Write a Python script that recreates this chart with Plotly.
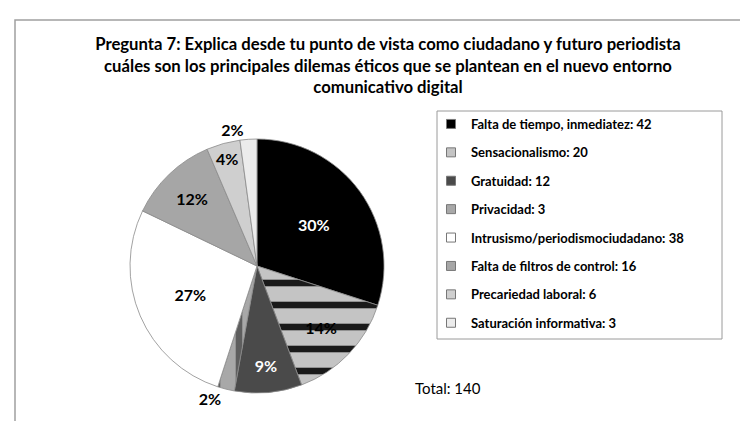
import plotly.graph_objects as go

labels = ["Falta de tiempo, inmediatez", "Sensacionalismo", "Gratuidad", "Privacidad",
          "Intrusismo/periodismociudadano", "Falta de filtros de control",
          "Precariedad laboral", "Saturación informativa"]
values = [42, 20, 12, 3, 38, 16, 6, 3]
pct_labels = ["30%", "14%", "9%", "2%", "27%", "12%", "4%", "2%"]
colors = ["#000000", "#c4c4c4", "#4a4a4a", "#a8a8a8", "#ffffff", "#a6a6a6", "#cfcfcf", "#ececec"]
text_colors = ["white", "black", "white", "black", "black", "black", "black", "black"]
positions = ["inside", "inside", "inside", "outside", "inside", "inside", "inside", "outside"]
patterns = ["", "-", "", "|", "", "", "", ""]
pattern_fg = ["#000000", "#1a1a1a", "#000000", "#5e5e5e", "#000000", "#000000", "#000000", "#000000"]
title = ("Pregunta 7: Explica desde tu punto de vista como ciudadano y futuro periodista<br>"
         "cuáles son los principales dilemas éticos que se plantean en el nuevo entorno<br>"
         "comunicativo digital")
total = sum(values)

FONT = "Lato"
W, H = 748, 421
CX, CY, R = 249, 258, 127


def px(x):
    return x / W


def py(y):
    return 1 - y / H


fig = go.Figure()
fig.add_trace(go.Pie(
    labels=labels, values=values, text=pct_labels, textinfo="text",
    sort=False, direction="clockwise", rotation=0,
    marker=dict(colors=colors, line=dict(color="#8a8a8a", width=0.8),
                pattern=dict(shape=patterns, fgcolor=pattern_fg, bgcolor=colors,
                             size=22, solidity=0.3)),
    textposition=positions, insidetextorientation="horizontal",
    textfont=dict(family=FONT, size=16, color=text_colors, weight="bold"),
    outsidetextfont=dict(family=FONT, size=16, color="black", weight="bold"),
    domain=dict(x=[px(CX - R), px(CX + R)], y=[py(CY + R), py(CY - R)]),
    showlegend=False, hoverinfo="label+value+percent",
))

for i, (lab, val) in enumerate(zip(labels, values)):
    fig.add_trace(go.Scatter(
        x=[None], y=[None], mode="markers", name=f"{lab}: {val}",
        marker=dict(symbol="square", size=9, color=colors[i],
                    line=dict(color="#777777", width=1)),
        legendgroup=f"g{i}", showlegend=True,
    ))

fig.update_layout(
    width=W, height=H, paper_bgcolor="white", plot_bgcolor="white",
    margin=dict(l=0, r=0, t=0, b=0),
    xaxis=dict(visible=False), yaxis=dict(visible=False),
    title=dict(text=title, x=px(380), xanchor="center", y=py(42), yanchor="top",
               font=dict(family=FONT, size=16.7, color="black", weight="bold")),
    legend=dict(x=px(423), y=py(101), xanchor="left", yanchor="top",
                borderwidth=0, bgcolor="rgba(255,255,255,0)",
                tracegroupgap=8.5, itemwidth=30,
                font=dict(family=FONT, size=13, color="black", weight="bold")),
    shapes=[
        dict(type="rect", xref="paper", yref="paper",
             x0=px(7), x1=1.05, y0=-0.05, y1=py(12),
             line=dict(color="#a0a0a0", width=1.5), fillcolor="rgba(0,0,0,0)"),
        dict(type="rect", xref="paper", yref="paper",
             x0=px(429), x1=px(714), y0=py(331), y1=py(103),
             line=dict(color="#9a9a9a", width=1), fillcolor="rgba(0,0,0,0)"),
    ],
    annotations=[dict(text=f"Total: {total}", x=px(405), y=py(380), xref="paper", yref="paper",
                      xanchor="left", yanchor="middle", showarrow=False,
                      font=dict(family=FONT, size=15, color="black"))],
)

fig.write_html("out.html")
